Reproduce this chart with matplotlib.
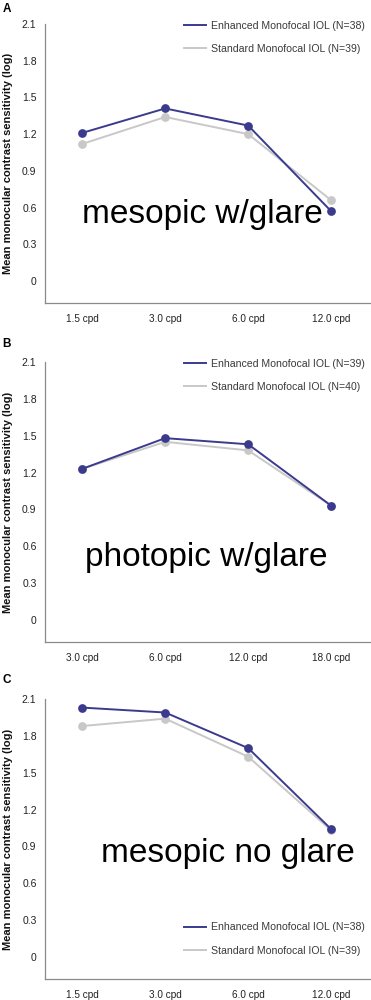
import matplotlib.pyplot as plt

plt.rcParams['font.family'] = ['Liberation Sans', 'DejaVu Sans']

# panel A: mesopic with glare
freqs_a = ['1.5 cpd', '3.0 cpd', '6.0 cpd', '12.0 cpd']
enh_a = [1.21, 1.41, 1.27, 0.57]
std_a = [1.12, 1.34, 1.20, 0.66]

# panel B: photopic with glare
freqs_b = ['3.0 cpd', '6.0 cpd', '12.0 cpd', '18.0 cpd']
enh_b = [1.23, 1.48, 1.43, 0.93]
std_b = [1.23, 1.45, 1.38, 0.93]

# panel C: mesopic no glare
freqs_c = ['1.5 cpd', '3.0 cpd', '6.0 cpd', '12.0 cpd']
enh_c = [2.03, 1.99, 1.70, 1.04]
std_c = [1.88, 1.94, 1.63, 1.03]

yticks = [0, 0.3, 0.6, 0.9, 1.2, 1.5, 1.8, 2.1]
ytick_labels = ['0', '0.3', '0.6', '0.9', '1.2', '1.5', '1.8', '2.1']

panels = [
    ('A', freqs_a, enh_a, std_a, 38, 39, 'mesopic w/glare', (1.45, 0.54), 'upper'),
    ('B', freqs_b, enh_b, std_b, 39, 40, 'photopic w/glare', (1.50, 0.51), 'upper'),
    ('C', freqs_c, enh_c, std_c, 38, 39, 'mesopic no glare', (1.75, 0.84), 'lower'),
]
boxes = [[0.121, 0.697, 0.879, 0.279],
         [0.121, 0.358, 0.879, 0.280],
         [0.121, 0.021, 0.879, 0.280]]
label_y = [0.997, 0.662, 0.326]

enh_color = '#3b3b8e'
std_color = '#c8c8c8'

fig = plt.figure(figsize=(3.71, 10), dpi=100)

for (letter, freqs, enh, std, n_e, n_s, note, pos, leg), box, ly in zip(panels, boxes, label_y):
    ax = fig.add_axes(box)
    x = range(len(freqs))
    ax.plot(x, std, color=std_color, lw=1.4, marker='o', ms=6.3, mec='none',
            label='Standard Monofocal IOL (N=%d)' % n_s, zorder=2, clip_on=False)
    ax.plot(x, enh, color=enh_color, lw=1.4, marker='o', ms=6.3, mec='none',
            label='Enhanced Monofocal IOL (N=%d)' % n_e, zorder=3, clip_on=False)
    ax.set_xlim(-0.45, 3.48)
    ax.set_ylim(-0.18, 2.1)
    ax.set_xticks(list(x))
    ax.set_xticklabels(freqs, fontsize=7.2, color='#222222')
    ax.set_yticks(yticks)
    ax.set_yticklabels(ytick_labels, fontsize=7.5, color='#222222')
    ax.tick_params(axis='y', length=0, pad=6)
    ax.tick_params(axis='x', length=0, pad=8)
    for s in ['top', 'right']:
        ax.spines[s].set_visible(False)
    for s in ['left', 'bottom']:
        ax.spines[s].set_color('#8a8a8a')
        ax.spines[s].set_linewidth(0.9)
    ax.set_ylabel('Mean monocular contrast sensitivity (log)', fontsize=8.0,
                  fontweight='bold', color='#111111')
    ax.yaxis.set_label_coords(-0.097, 0.5)

    handles, labels = ax.get_legend_handles_labels()
    handles, labels = handles[::-1], labels[::-1]
    h_lines = [plt.Line2D([], [], color=h.get_color(), lw=1.4) for h in handles]
    if leg == 'upper':
        ax.legend(h_lines, labels, loc='upper right', bbox_to_anchor=(1.01, 1.045),
                  fontsize=7.6, frameon=False, handlelength=2.0, handletextpad=0.5,
                  labelspacing=1.25, labelcolor='#3a3a3a')
    else:
        ax.legend(h_lines, labels, loc='lower right', bbox_to_anchor=(1.01, 0.05),
                  fontsize=7.6, frameon=False, handlelength=2.0, handletextpad=0.5,
                  labelspacing=1.25, labelcolor='#3a3a3a')

    ax.text(pos[0], pos[1], note, fontsize=24, ha='center', va='center', color='black')
    fig.text(0.006, ly, letter, fontsize=8.5, fontweight='bold', ha='left', va='top')

fig.savefig('out.png', dpi=100)
